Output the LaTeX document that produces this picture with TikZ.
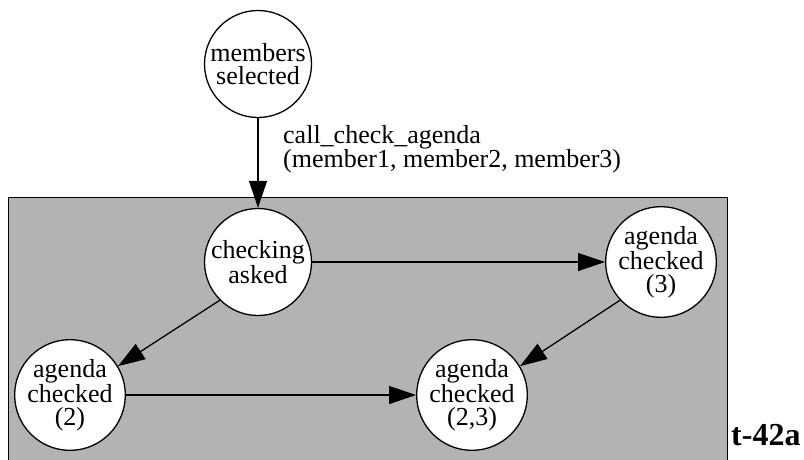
\documentclass[tikz,border=0pt]{standalone}
\usepackage{fontspec}
\setmainfont{Liberation Serif}
\usetikzlibrary{arrows.meta}
\definecolor{clustergray}{HTML}{B3B3B3}
\begin{document}
\begin{tikzpicture}[x=1pt,y=-1pt,
  state/.style={circle,draw,line width=1.3pt,fill=white,minimum size=107pt,inner sep=0pt,align=center,font=\fontsize{26}{23}\selectfont},
  edge/.style={line width=1.3pt,-{Triangle[length=27pt,width=18pt]}},
  lbl/.style={align=left,inner sep=0pt,font=\fontsize{26}{23}\selectfont}]
\useasboundingbox (0,0) rectangle (804,459);
\node[draw,line width=1.3pt,fill=clustergray,minimum width=719pt,minimum height=280pt,anchor=north west,inner sep=0pt] (cluster) at (8,197) {};
\node[state] (ms) at (258,64) {members\\selected};
\node[state] (ca) at (258,262) {checking\\asked};
\node[state] (a3) at (661,262) {agenda\\checked\\(3)};
\node[state] (a2) at (70,395) {agenda\\checked\\(2)};
\node[state] (a23) at (472,395) {agenda\\checked\\(2,3)};
\node[lbl,anchor=north west] (l1) at (283,125) {call\_check\_agenda\\(member1, member2, member3)};
\node[anchor=base west,inner sep=0pt,font=\fontsize{32}{36}\selectfont\bfseries] (t42) at (731,445) {t-42a};
\draw[edge] (ms) -- (ca);
\draw[edge] (ca) -- (a3);
\draw[edge] (ca.225) -- (a2.31);
\draw[edge] (a3.223) -- (a23.31);
\draw[edge] (a2) -- (a23);
\end{tikzpicture}
\end{document}
